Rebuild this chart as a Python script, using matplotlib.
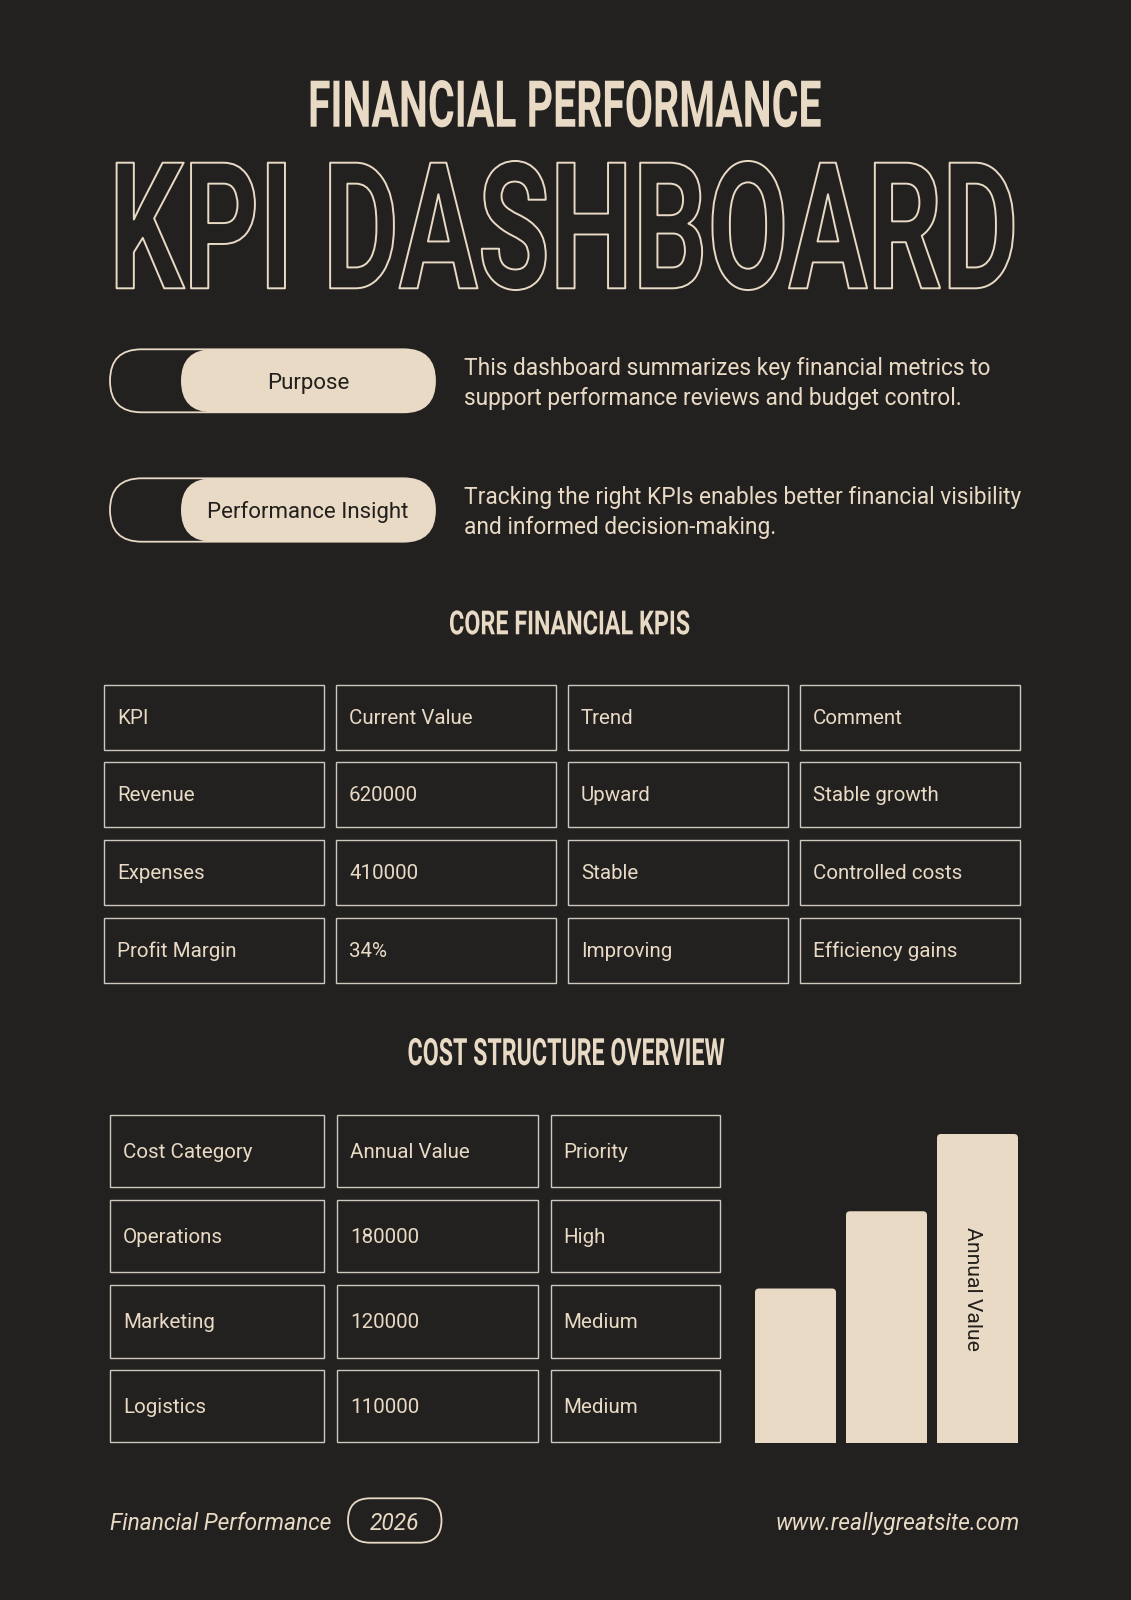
import matplotlib
matplotlib.use('Agg')
import matplotlib.pyplot as plt
import matplotlib.patheffects as pe
from matplotlib.patches import FancyBboxPatch, Rectangle
from matplotlib.textpath import TextPath
from matplotlib.font_manager import FontProperties
from matplotlib.transforms import Affine2D

# ---- data ----
header_small = "FINANCIAL PERFORMANCE"
header_big = "KPI DASHBOARD"
pill_labels = ["Purpose", "Performance Insight"]
pill_texts = [
    ["This dashboard summarizes key financial metrics to",
     "support performance reviews and budget control."],
    ["Tracking the right KPIs enables better financial visibility",
     "and informed decision-making."],
]
kpi_title = "CORE FINANCIAL KPIS"
kpi_header = ["KPI", "Current Value", "Trend", "Comment"]
kpi_names = ["Revenue", "Expenses", "Profit Margin"]
kpi_values = ["620000", "410000", "34%"]
kpi_trends = ["Upward", "Stable", "Improving"]
kpi_comments = ["Stable growth", "Controlled costs", "Efficiency gains"]

cost_title = "COST STRUCTURE OVERVIEW"
cost_header = ["Cost Category", "Annual Value", "Priority"]
cost_categories = ["Operations", "Marketing", "Logistics"]
cost_values = ["180000", "120000", "110000"]
cost_priority = ["High", "Medium", "Medium"]

bar_heights = [50, 75, 100]   # relative bar heights as drawn
bar_label = "Annual Value"

footer_left = "Financial Performance"
footer_year = "2026"
footer_right = "www.reallygreatsite.com"

BG = '#232120'
CREAM = '#e8dac4'
DARK = '#221f1c'
LINE = '#cdc7bd'
W, H = 1131, 1600
BODY = 'Roboto'


class Stretch(pe.AbstractPathEffect):
    # stretch text vertically about its baseline (display px), optional outline
    def __init__(self, sy, cy, stroke=None, lw=0.0, face=None):
        super().__init__()
        self.sy, self.cy = sy, cy
        self.stroke, self.lw, self.face = stroke, lw, face

    def draw_path(self, renderer, gc, tpath, affine, rgbFace=None):
        t = affine + Affine2D().translate(0, -self.cy).scale(1, self.sy).translate(0, self.cy)
        gc0 = renderer.new_gc()
        gc0.copy_properties(gc)
        face = rgbFace
        if self.stroke is not None:
            gc0.set_foreground(self.stroke)
            gc0.set_linewidth(self.lw)
            face = matplotlib.colors.to_rgba(self.face)
        renderer.draw_path(gc0, tpath, t, face)
        gc0.restore()


fig = plt.figure(figsize=(W / 100, H / 100), dpi=100)
fig.patch.set_facecolor(BG)
ax = fig.add_axes([0, 0, 1, 1])
ax.set_xlim(0, W)
ax.set_ylim(H, 0)
ax.axis('off')


def title(s, x0, x1, ytop, ybot, outline=False):
    fp = FontProperties(family=BODY, weight='bold')
    cap = TextPath((0, 0), 'H', size=1, prop=fp).get_extents().height
    ink = TextPath((0, 0), s, size=1, prop=fp).get_extents()
    em = (x1 - x0) / ink.width
    sy = (ybot - ytop) / (cap * em)
    if outline:
        eff = Stretch(sy, H - ybot, stroke=CREAM, lw=1.4, face=BG)
    else:
        eff = Stretch(sy, H - ybot)
    ax.text(x0 - ink.x0 * em, ybot, s, fontproperties=fp, fontsize=em * 72 / 100,
            color=CREAM, ha='left', va='baseline', path_effects=[eff])


def pill(x0, x1, y0, y1, fc, ec, lw):
    p = FancyBboxPatch((x0, y0), x1 - x0, y1 - y0,
                       boxstyle="round,pad=0,rounding_size=%f" % ((y1 - y0) / 2),
                       facecolor=fc, edgecolor=ec, linewidth=lw)
    ax.add_patch(p)


# header
title(header_small, 310.6, 820.6, 80.7, 126.7)
title(header_big, 116.6, 1013.4, 162.7, 288.3, outline=True)

# pills + descriptions
pill_y = [(349.3, 412.3), (478.3, 541.7)]
for i, (y0, y1) in enumerate(pill_y):
    pill(110, 435, y0, y1, 'none', CREAM, 1.3)
    pill(181, 435, y0, y1, CREAM, 'none', 0)
    ax.text(308, (y0 + y1) / 2 + 8, pill_labels[i], family=BODY, fontsize=16,
            color=DARK, ha='center', va='baseline')
    for j, line in enumerate(pill_texts[i]):
        ax.text(464, y0 + 26 + 30 * j, line, family=BODY, fontsize=16.4,
                color=CREAM, ha='left', va='baseline')

# KPI table
title(kpi_title, 450, 689.3, 610.7, 634.3)
kpi_rows = [kpi_header] + [list(r) for r in zip(kpi_names, kpi_values, kpi_trends, kpi_comments)]
col_x = [104, 336, 568, 800]
row_y = [684.5, 762.3, 840, 917.7]
for r, row in enumerate(kpi_rows):
    for c, val in enumerate(row):
        ax.add_patch(Rectangle((col_x[c], row_y[r]), 220, 65, facecolor='none',
                               edgecolor=LINE, linewidth=1.0))
        ax.text(col_x[c] + 13, row_y[r] + 32.5 + 6.5, val, family=BODY, fontsize=14.8,
                color=CREAM, ha='left', va='baseline')

# cost table
title(cost_title, 408.5, 724.4, 1038.3, 1065)
cost_rows = [cost_header] + [list(r) for r in zip(cost_categories, cost_values, cost_priority)]
col2_x0 = [110, 337, 550.5]
col2_x1 = [324.4, 538, 719.5]
row2_y = [1114.7, 1199.8, 1285, 1369.7]
for r, row in enumerate(cost_rows):
    for c, val in enumerate(row):
        ax.add_patch(Rectangle((col2_x0[c], row2_y[r]), col2_x1[c] - col2_x0[c], 72.5,
                               facecolor='none', edgecolor=LINE, linewidth=1.0))
        ax.text(col2_x0[c] + 13, row2_y[r] + 36.25 + 7, val, family=BODY, fontsize=14.8,
                color=CREAM, ha='left', va='baseline')

# bar chart
bx0, bx1, btop, bbot = 755, 1018, 1134, 1443
bax = fig.add_axes([bx0 / W, (H - bbot) / H, (bx1 - bx0) / W, (bbot - btop) / H])
bax.axis('off')
bw = 81 / 91
bars = bax.bar(range(len(bar_heights)), bar_heights, width=bw, color=CREAM)
bax.set_xlim(-bw / 2, len(bar_heights) - 1 + bw / 2)
bax.set_ylim(0, max(bar_heights))
x_per_px = (len(bar_heights) - 1 + bw) / (bx1 - bx0)
y_per_px = max(bar_heights) / (bbot - btop)
aspect = y_per_px / x_per_px
r = 4 * x_per_px
for b in bars:
    b.set_visible(False)
    x, w, h = b.get_x(), b.get_width(), b.get_height()
    p = FancyBboxPatch((x, -10 * y_per_px), w, h + 10 * y_per_px,
                       boxstyle="round,pad=0,rounding_size=%f" % r,
                       mutation_aspect=aspect, facecolor=CREAM, edgecolor='none')
    bax.add_patch(p)
bax.text(len(bar_heights) - 1 - 0.06, bar_heights[-1] * 0.5, bar_label, family=BODY,
         fontsize=15.2, color=DARK, rotation=270, ha='center', va='center')

# footer
ax.text(110, 1530, footer_left, family=BODY, style='italic', fontsize=16.4,
        color=CREAM, ha='left', va='baseline')
pill(348, 441.5, 1498.3, 1542.7, 'none', CREAM, 1.3)
ax.text(394.7, 1530, footer_year, family=BODY, style='italic', fontsize=16.4,
        color=CREAM, ha='center', va='baseline')
ax.text(1019.5, 1530, footer_right, family=BODY, style='italic', fontsize=16.4,
        color=CREAM, ha='right', va='baseline')

fig.savefig('out.png', dpi=100, facecolor=BG)
